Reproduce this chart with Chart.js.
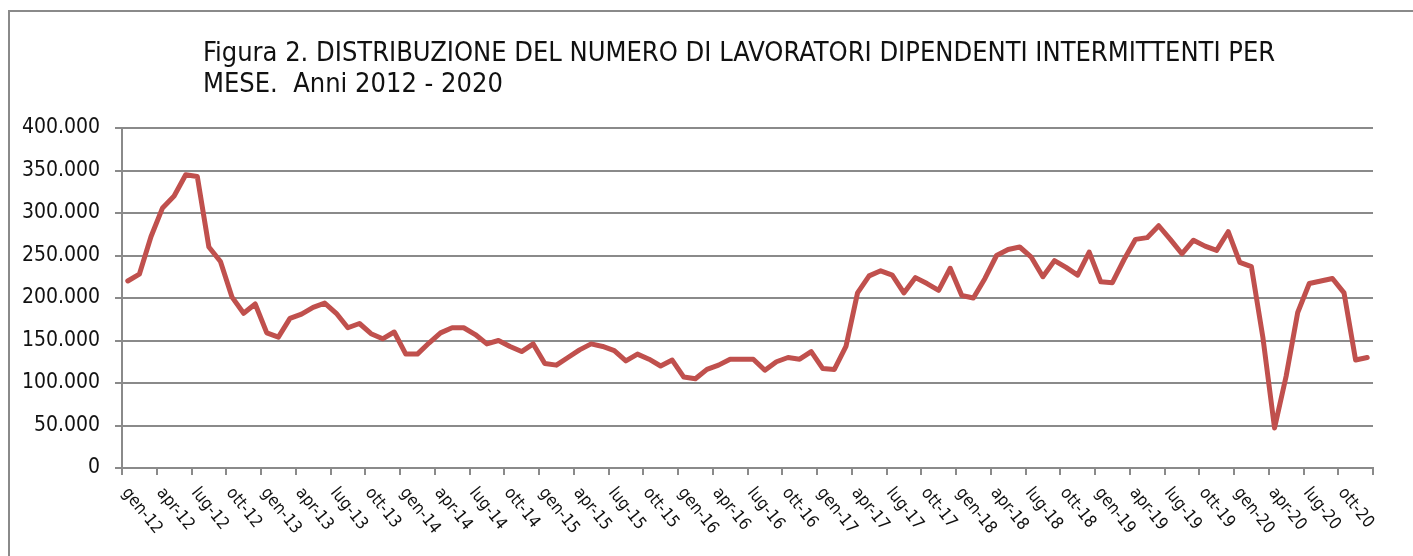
<!DOCTYPE html>
<html>
<head>
<meta charset="utf-8">
<script src="https://cdn.jsdelivr.net/npm/chart.js@4.4.0/dist/chart.umd.min.js"></script>
<style>
  html, body { margin: 0; padding: 0; background: #fff; }
  #grafico { display: block; }
</style>
</head>
<body>
<canvas id="grafico" width="1413" height="556"></canvas>
<script>
// dati (lavoratori intermittenti per mese)
const mesiAbbr = ['gen','feb','mar','apr','mag','giu','lug','ago','set','ott','nov','dic'];
const anni = ['12','13','14','15','16','17','18','19','20'];
const lavoratori = [
  220000, 228000, 272000, 306000, 320000, 345000, 343000, 260000, 243000, 201000, 182000, 193000,
  159000, 154000, 176000, 181000, 189000, 194000, 182000, 165000, 170000, 158000, 152000, 160000,
  134000, 134000, 147000, 159000, 165000, 165000, 157000, 146000, 150000, 143000, 137000, 146000,
  123000, 121000, 130000, 139000, 146000, 143000, 138000, 126000, 134000, 128000, 120000, 127000,
  107000, 105000, 116000, 121000, 128000, 128000, 128000, 115000, 125000, 130000, 128000, 137000,
  117000, 116000, 143000, 206000, 226000, 232000, 227000, 206000, 224000, 217000, 209000, 235000,
  203000, 200000, 223000, 250000, 257000, 260000, 248000, 225000, 244000, 236000, 227000, 254000,
  219000, 218000, 245000, 269000, 271000, 285000, 269000, 252000, 268000, 261000, 256000, 278000,
  242000, 237000, 153000, 47000, 108000, 183000, 217000, 220000, 223000, 206000, 127000, 130000
];
const titolo = [
  'Figura 2. DISTRIBUZIONE DEL NUMERO DI LAVORATORI DIPENDENTI INTERMITTENTI PER',
  'MESE.  Anni 2012 - 2020'
];
const passoAsseY = 50000;
const maxAsseY = 400000;

const mesi = [];
anni.forEach(a => mesiAbbr.forEach(m => mesi.push(m + '-' + a)));

const FONT = "'DejaVu Sans Condensed', 'DejaVu Sans', sans-serif";
const GRIGIO = '#8a8a8a';

function puntiMigliaia(v) {
  return String(v).replace(/\B(?=(\d{3})+(?!\d))/g, '.');
}

// titolo, cornice ed etichette inclinate dell'asse x
const decorazioni = {
  id: 'decorazioni',
  afterDraw(chart) {
    const ctx = chart.ctx;
    const x = chart.scales.x;
    ctx.save();
    ctx.strokeStyle = GRIGIO;
    ctx.lineWidth = 2;
    ctx.strokeRect(9, 11, 1500, 600);

    ctx.fillStyle = '#111';
    ctx.textAlign = 'left';
    ctx.textBaseline = 'alphabetic';
    ctx.font = '27px ' + FONT;
    ctx.fillText(titolo[0], 203, 61);
    ctx.fillText(titolo[1], 203, 92);

    ctx.font = '17px ' + FONT;
    ctx.textBaseline = 'middle';
    const larg = (x.right - x.left) / mesi.length;
    for (let i = 0; i < mesi.length; i += 3) {
      const px = x.getPixelForValue(i) - larg / 2;
      ctx.save();
      ctx.translate(px + 3, x.top + 22);
      ctx.rotate(51 * Math.PI / 180);
      ctx.fillText(mesi[i], 0, 0);
      ctx.restore();
    }
    ctx.restore();
  }
};

new Chart(document.getElementById('grafico'), {
  type: 'line',
  data: {
    labels: mesi,
    datasets: [{
      label: 'Lavoratori intermittenti',
      data: lavoratori,
      borderColor: '#C0504D',
      borderWidth: 5,
      pointRadius: 0,
      tension: 0,
      borderJoinStyle: 'round',
      borderCapStyle: 'round'
    }]
  },
  options: {
    responsive: false,
    animation: false,
    devicePixelRatio: 1,
    layout: { padding: { top: 128, right: 40, left: 0, bottom: 0 } },
    plugins: {
      legend: { display: false },
      title: { display: false },
      tooltip: { enabled: false }
    },
    scales: {
      x: {
        type: 'category',
        offset: true,
        afterFit(scale) { scale.height = 88; },
        ticks: { display: false, autoSkip: false },
        grid: {
          offset: true,
          drawOnChartArea: false,
          drawTicks: true,
          tickLength: 7,
          lineWidth: 2,
          color: c => (c.index === undefined || c.index % 3 === 0) ? GRIGIO : 'rgba(0,0,0,0)'
        },
        border: { display: true, color: GRIGIO, width: 2 }
      },
      y: {
        min: 0,
        max: maxAsseY,
        afterFit(scale) { scale.width = 122; },
        ticks: {
          stepSize: passoAsseY,
          padding: 15,
          color: '#111',
          font: { family: FONT, size: 21 },
          callback: v => puntiMigliaia(v)
        },
        grid: { color: GRIGIO, lineWidth: 2, tickLength: 7 },
        border: { display: true, color: GRIGIO, width: 2 }
      }
    }
  },
  plugins: [decorazioni]
});
</script>
</body>
</html>
